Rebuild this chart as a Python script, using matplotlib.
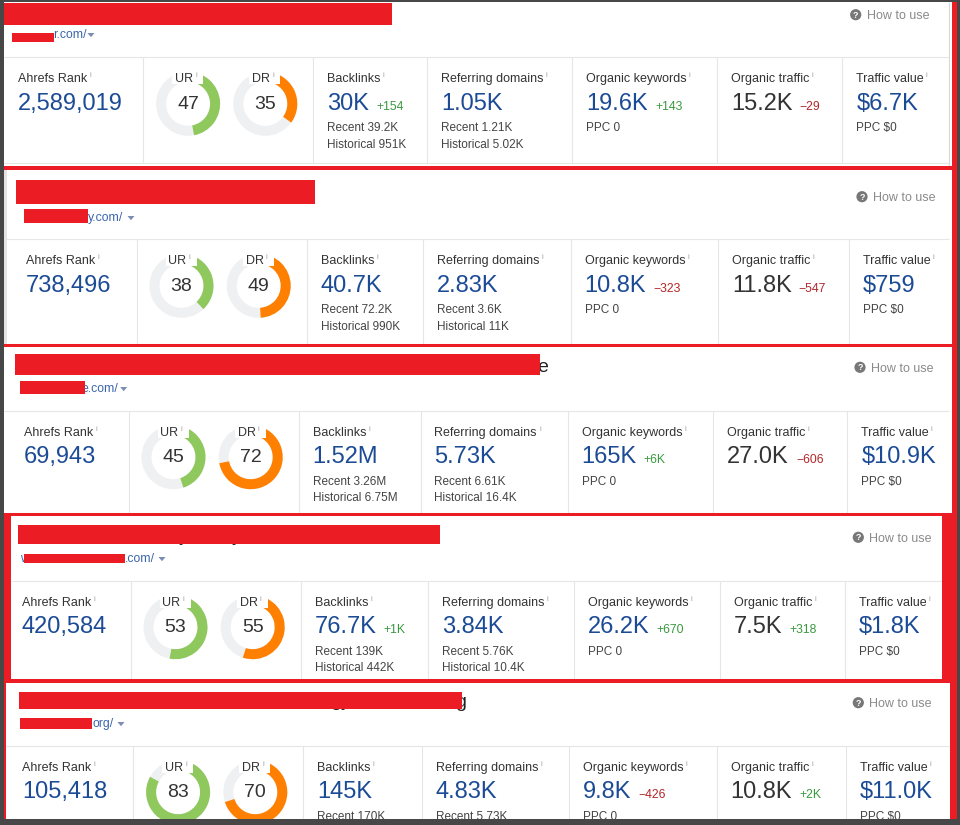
import matplotlib
matplotlib.use('Agg')
import matplotlib.pyplot as plt
from matplotlib.patches import Rectangle, Wedge, Circle, Polygon

plt.rcParams['font.family'] = ['Liberation Sans', 'DejaVu Sans']

# ---------------- data ----------------
url_suffix = ["r.com/", "y.com/", "e.com/", ".com/", "org/"]
ahrefs_rank = ["2,589,019", "738,496", "69,943", "420,584", "105,418"]
ur_values = [47, 38, 45, 53, 83]
dr_values = [35, 49, 72, 55, 70]
backlinks = ["30K", "40.7K", "1.52M", "76.7K", "145K"]
backlinks_delta = ["+154", "", "", "+1K", ""]
backlinks_recent = ["39.2K", "72.2K", "3.26M", "139K", "170K"]
backlinks_hist = ["951K", "990K", "6.75M", "442K", ""]
ref_domains = ["1.05K", "2.83K", "5.73K", "3.84K", "4.83K"]
ref_domains_recent = ["1.21K", "3.6K", "6.61K", "5.76K", "5.73K"]
ref_domains_hist = ["5.02K", "11K", "16.4K", "10.4K", ""]
org_keywords = ["19.6K", "10.8K", "165K", "26.2K", "9.8K"]
org_keywords_delta = ["+143", "\u2212323", "+6K", "+670", "\u2212426"]
org_keywords_ppc = ["0", "0", "0", "0", "0"]
org_traffic = ["15.2K", "11.8K", "27.0K", "7.5K", "10.8K"]
org_traffic_delta = ["\u221229", "\u2212547", "\u2212606", "+318", "+2K"]
traffic_value = ["$6.7K", "$759", "$10.9K", "$1.8K", "$11.0K"]
traffic_value_ppc = ["$0", "$0", "$0", "$0", "$0"]
metric_labels = ["Ahrefs Rank", "Backlinks", "Referring domains",
                 "Organic keywords", "Organic traffic", "Traffic value"]

# ---------------- layout (pixel coordinates) ----------------
panels = [
    dict(top=1.5, bottom=165.5, left=4, right=952, sep=57.3, rank_x=18,
         div=[143.3, 313.3, 427.3, 572.3, 717.3, 842.3],
         title=(3, 3, 392, 24.5), ubox=(12, 32.7, 54, 41.7), url_x=53, url_y=38.5,
         tri=(91, 35), help=(855.7, 14.7), pre=None, glyphs=[]),
    dict(top=170, bottom=343.5, left=4, right=953.5, sep=239.3, rank_x=26,
         div=[136.7, 306.7, 423.3, 570.6, 718, 849.2],
         title=(16, 180, 315, 203.7), ubox=(24, 209.3, 88.3, 223.3), url_x=88, url_y=221.5,
         tri=(131, 218), help=(862, 196.7), pre=None,
         glyphs=[(88, 200, "y"), (146, 200, "g")]),
    dict(top=347, bottom=513, left=4, right=953.3, sep=410.7, rank_x=24,
         div=[128.7, 298.7, 420.5, 567.6, 713.3, 847.3],
         title=(15, 354, 540, 375), ubox=(20, 381, 85, 394.3), url_x=81.3, url_y=391.7,
         tri=(123.7, 389), help=(860, 367.3), pre=None,
         glyphs=[(537, 372, "e")]),
    dict(top=516, bottom=679, left=11, right=941.7, sep=580.7, rank_x=22,
         div=[130.7, 300.7, 427.6, 573.5, 720, 845],
         title=(18, 525, 439.5, 544.3), ubox=(24, 554, 125, 563.3), url_x=125, url_y=561.7,
         tri=(162, 559), help=(858.3, 537.3), pre=(20.5, "w"),
         glyphs=[(179, 541, "y"), (232, 541, "y")]),
    dict(top=683, bottom=830, left=6, right=950, sep=745.7, rank_x=22,
         div=[133.3, 303.3, 421.7, 569.3, 716.7, 845.7],
         title=(19, 692, 461.7, 709), ubox=(20, 717.7, 91.7, 729), url_x=92.5, url_y=727.3,
         tri=(121, 724), help=(858.3, 702.7), pre=None,
         glyphs=[(330, 706, "gy"), (455, 707, "g")]),
]

RED = '#ec1c24'
DARK = '#474747'
BLUE = '#1c4b96'
LABEL = '#333333'
SUB = '#444444'
GREEN = '#3a9a3e'
DRED = '#b3262a'
LINE = '#e6e6e6'
RING = '#eff0f2'
URC = '#8fc85c'
DRC = '#ff8000'
URLC = '#3b65aa'

fig = plt.figure(figsize=(9.6, 8.25), dpi=100)
fig.patch.set_facecolor(DARK)
ax = fig.add_axes([0, 0, 1, 1])
ax.set_xlim(0, 960)
ax.set_ylim(825, 0)
ax.axis('off')
ax.set_facecolor(DARK)
renderer = fig.canvas.get_renderer()


def rect(x0, y0, x1, y1, color, z=1):
    ax.add_patch(Rectangle((x0, y0), x1 - x0, y1 - y0, facecolor=color,
                           edgecolor='none', zorder=z))


def hline(y, x0, x1, color=LINE, z=2):
    ax.plot([x0, x1], [y, y], color=color, lw=0.8, zorder=z, solid_capstyle='butt')


def vline(x, y0, y1, color=LINE, z=2):
    ax.plot([x, x], [y0, y1], color=color, lw=0.8, zorder=z, solid_capstyle='butt')


def txt(x, y, s, size, color, z=5, **kw):
    return ax.text(x, y, s, fontsize=size, color=color, va='baseline', ha=kw.pop('ha', 'left'),
                   zorder=z, **kw)


def width(t):
    return t.get_window_extent(renderer).width


def label_with_i(x, y, s):
    t = txt(x, y, s, 9, LABEL)
    w = width(t)
    txt(x + w + 2, y - 5, "i", 5.5, '#a0a0a0')


def value_with_delta(x, y, v, d, vcolor=BLUE):
    t = txt(x, y, v, 17, vcolor)
    if d:
        w = width(t)
        dc = GREEN if d.startswith('+') else DRED
        txt(x + w + 7, y, d, 8.8, dc)


def donut(cx, cy, val, color, name, S):
    ax.add_patch(Wedge((cx, cy), 32, 0, 360, width=10, facecolor=RING,
                       edgecolor='none', zorder=3))
    ax.add_patch(Wedge((cx, cy), 32, -90, -90 + 3.6 * val, width=10, facecolor=color,
                       edgecolor='none', zorder=3))
    rect(cx - 16, S + 12.5, cx + 15, S + 27, 'white', z=4)
    txt(cx + 5, S + 25, name, 9, LABEL, ha='right')
    txt(cx + 7, S + 20, "i", 5.5, '#a0a0a0')
    txt(cx, S + 51.5, str(val), 14, LABEL, ha='center')


for i, p in enumerate(panels):
    S = p['sep']
    rect(p['left'], p['top'], p['right'], p['bottom'], 'white', z=1)
    for gx, gy, gs in p['glyphs']:
        txt(gx, gy, gs, 14, '#222222', z=2)
    x0, y0, x1, y1 = p['title']
    rect(x0, y0, x1, y1, RED, z=6)
    if p['pre']:
        txt(p['pre'][0], p['url_y'], p['pre'][1], 8.8, URLC)
    txt(p['url_x'], p['url_y'], url_suffix[i], 8.8, URLC)
    x0, y0, x1, y1 = p['ubox']
    rect(x0, y0, x1, y1, RED, z=6)
    tx, ty = p['tri']
    ax.add_patch(Polygon([(tx - 3.5, ty - 2), (tx + 3.5, ty - 2), (tx, ty + 2.2)],
                         closed=True, facecolor='#7b8db5', edgecolor='none', zorder=5))
    hx, hy = p['help']
    ax.add_patch(Circle((hx, hy), 5.6, facecolor='#777777', edgecolor='none', zorder=5))
    ax.text(hx, hy + 0.3, "?", fontsize=6.5, color='white', fontweight='bold',
            ha='center', va='center', zorder=6)
    txt(hx + 11, hy + 4.5, "How to use", 9, '#8a8a8a')
    hline(S, p['left'], min(p['right'], 949))
    bot = min(S + 105.5, p['bottom'])
    hline(bot, p['left'], min(p['right'], 949))
    for d in p['div']:
        vline(d, S, bot)
    d = p['div']
    LB, VB, S1, S2 = S + 25, S + 52.5, S + 74, S + 90.5
    label_with_i(p['rank_x'], LB, metric_labels[0])
    txt(p['rank_x'], VB, ahrefs_rank[i], 17, BLUE)
    donut(d[0] + 44.8, S + 46.5, ur_values[i], URC, "UR", S)
    donut(d[0] + 122, S + 46.5, dr_values[i], DRC, "DR", S)
    x = d[1] + 14
    label_with_i(x, LB, metric_labels[1])
    value_with_delta(x, VB, backlinks[i], backlinks_delta[i])
    txt(x, S1, "Recent " + backlinks_recent[i], 8.5, SUB)
    if backlinks_hist[i]:
        txt(x, S2, "Historical " + backlinks_hist[i], 8.5, SUB)
    x = d[2] + 14
    label_with_i(x, LB, metric_labels[2])
    value_with_delta(x, VB, ref_domains[i], "")
    txt(x, S1, "Recent " + ref_domains_recent[i], 8.5, SUB)
    if ref_domains_hist[i]:
        txt(x, S2, "Historical " + ref_domains_hist[i], 8.5, SUB)
    x = d[3] + 14
    label_with_i(x, LB, metric_labels[3])
    value_with_delta(x, VB, org_keywords[i], org_keywords_delta[i])
    txt(x, S1, "PPC " + org_keywords_ppc[i], 8.5, SUB)
    x = d[4] + 14
    label_with_i(x, LB, metric_labels[4])
    value_with_delta(x, VB, org_traffic[i], org_traffic_delta[i], vcolor='#333333')
    x = d[5] + 14
    label_with_i(x, LB, metric_labels[5])
    value_with_delta(x, VB, traffic_value[i], "")
    txt(x, S1, "PPC " + traffic_value_ppc[i], 8.5, SUB)

# panel 1 right grey border, panel 2 left border
vline(948.8, 1.5, 165.5, color='#d8d8d8', z=2)
rect(4, 170, 6.5, 343.5, '#e4e4e4', z=2)

# red frames
for y0, y1 in [(165.5, 170), (343.5, 347), (513, 516), (679, 683)]:
    rect(4, y0, 956.5, y1, RED, z=7)
rect(952, 0, 956.5, 819, RED, z=7)
rect(950, 683, 956.5, 819, RED, z=7)
rect(941.7, 513, 956.7, 683, RED, z=7)
rect(4, 513, 11, 683, RED, z=7)
rect(4, 683, 6, 819, RED, z=7)

# dark screenshot edges
rect(0, 0, 4, 825, DARK, z=8)
rect(956.5, 0, 960, 825, DARK, z=8)
rect(0, 819, 960, 825, DARK, z=8)
rect(0, 0, 960, 1.5, DARK, z=8)

fig.savefig('out.png', dpi=100, facecolor=DARK)
